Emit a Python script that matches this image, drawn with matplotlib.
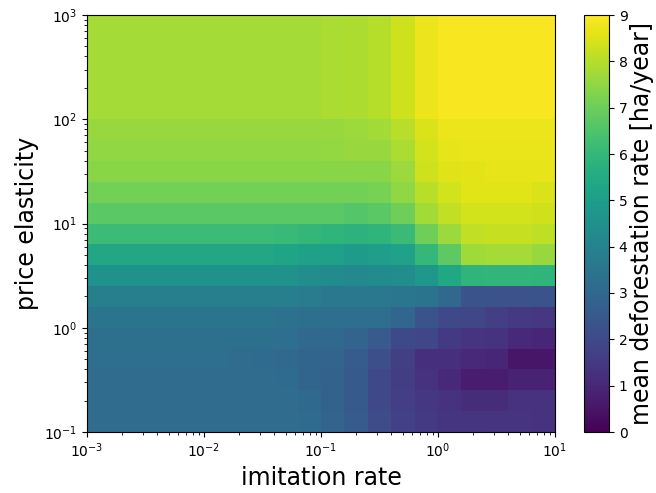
import numpy as np
import matplotlib
matplotlib.use("Agg")
import matplotlib.pyplot as plt

# grid: 20 imitation-rate bins (1e-3 .. 1e1) x 20 price-elasticity bins (1e-1 .. 1e3)
imitation_edges = np.logspace(-3, 1, 21)
elasticity_edges = np.logspace(-1, 3, 21)

# mean deforestation rate [ha/year], one list per elasticity bin (bottom -> top)
rate_e00 = [3.15] * 9 + [3.1, 2.85, 2.55, 2.05, 1.7, 1.5, 1.4, 1.4, 1.35, 1.35, 1.3]
rate_e01 = [3.15] * 9 + [3.05, 2.8, 2.5, 1.95, 1.65, 1.42, 1.3, 1.1, 1.1, 1.3, 1.3]
rate_e02 = [3.15] * 8 + [3.1, 2.9, 2.8, 2.5, 1.95, 1.6, 1.3, 1.0, 0.7, 0.7, 0.85, 0.85]
rate_e03 = [3.2] * 6 + [3.15, 3.1, 3.0, 2.9, 2.85, 2.6, 2.15, 1.67, 1.25, 1.2, 1.0, 0.95, 0.5, 0.5]
rate_e04 = [3.3] * 8 + [3.2, 3.0, 3.0, 2.85, 2.55, 2.0, 1.9, 1.5, 1.35, 1.3, 1.0, 0.95]
rate_e05 = [3.45] * 8 + [3.4, 3.3, 3.2, 3.2, 3.2, 2.95, 2.3, 1.95, 1.9, 1.67, 1.5, 1.42]
rate_e06 = [3.85] * 9 + [3.75, 3.6, 3.6, 3.6, 3.55, 3.45, 3.0, 2.3, 2.25, 2.25, 2.3]
rate_e07 = [4.55] * 8 + [4.5, 4.4, 4.3, 4.25, 4.3, 4.4, 4.8, 5.35, 5.85, 5.9, 5.9, 5.85]
rate_e08 = [5.35] * 8 + [5.25, 5.15, 5.1, 4.95, 5.0, 5.2, 6.0, 6.75, 7.7, 7.8, 7.8, 7.6]
rate_e09 = [6.15] * 8 + [6.05, 5.95, 5.85, 5.8, 5.85, 6.1, 7.0, 7.65, 8.15, 8.2, 8.2, 8.1]
rate_e10 = [6.7] * 10 + [6.7, 6.6, 6.7, 7.0, 7.75, 8.15, 8.4, 8.4, 8.4, 8.35]
rate_e11 = [7.1] * 10 + [7.1, 7.1, 7.15, 7.5, 8.05, 8.4, 8.6, 8.6, 8.6, 8.5]
rate_e12 = [7.4] * 10 + [7.4, 7.4, 7.4, 7.65, 8.3, 8.55, 8.6, 8.65, 8.65, 8.65]
rate_e13 = [7.5] * 10 + [7.55, 7.6, 7.6, 7.85, 8.4, 8.65, 8.7, 8.7, 8.7, 8.7]
rate_e14 = [7.6] * 10 + [7.6, 7.65, 7.75, 8.05, 8.5, 8.75, 8.75, 8.75, 8.75, 8.75]
rate_e15 = [7.8] * 10 + [7.85, 7.9, 8.0, 8.3, 8.75, 8.9, 8.9, 8.9, 8.9, 8.9]
rate_e16 = [7.8] * 10 + [7.85, 7.9, 8.0, 8.3, 8.75, 8.9, 8.9, 8.9, 8.9, 8.9]
rate_e17 = [7.8] * 10 + [7.85, 7.9, 8.0, 8.3, 8.75, 8.9, 8.9, 8.9, 8.9, 8.9]
rate_e18 = [7.8] * 10 + [7.85, 7.9, 8.0, 8.3, 8.75, 8.9, 8.9, 8.9, 8.9, 8.9]
rate_e19 = [7.8] * 10 + [7.85, 7.9, 8.0, 8.3, 8.75, 8.9, 8.9, 8.9, 8.9, 8.9]

rate = np.array([rate_e00, rate_e01, rate_e02, rate_e03, rate_e04,
                 rate_e05, rate_e06, rate_e07, rate_e08, rate_e09,
                 rate_e10, rate_e11, rate_e12, rate_e13, rate_e14,
                 rate_e15, rate_e16, rate_e17, rate_e18, rate_e19])

fig = plt.figure(figsize=(6.56, 4.93), dpi=100)
ax = fig.add_axes([87 / 656, 61 / 493, 468 / 656, 417 / 493])
cax = fig.add_axes([584 / 656, 61 / 493, 25 / 656, 417 / 493])

mesh = ax.pcolormesh(imitation_edges, elasticity_edges, rate,
                     cmap="viridis", vmin=0, vmax=9)
ax.set_xscale("log")
ax.set_yscale("log")
ax.set_xlim(1e-3, 1e1)
ax.set_ylim(1e-1, 1e3)
ax.set_xlabel("imitation rate", fontsize=17)
ax.set_ylabel("price elasticity", fontsize=17)

cbar = fig.colorbar(mesh, cax=cax, ticks=range(10))
cbar.set_label("mean deforestation rate [ha/year]", fontsize=17, labelpad=2)

fig.savefig("out.png", dpi=100)
